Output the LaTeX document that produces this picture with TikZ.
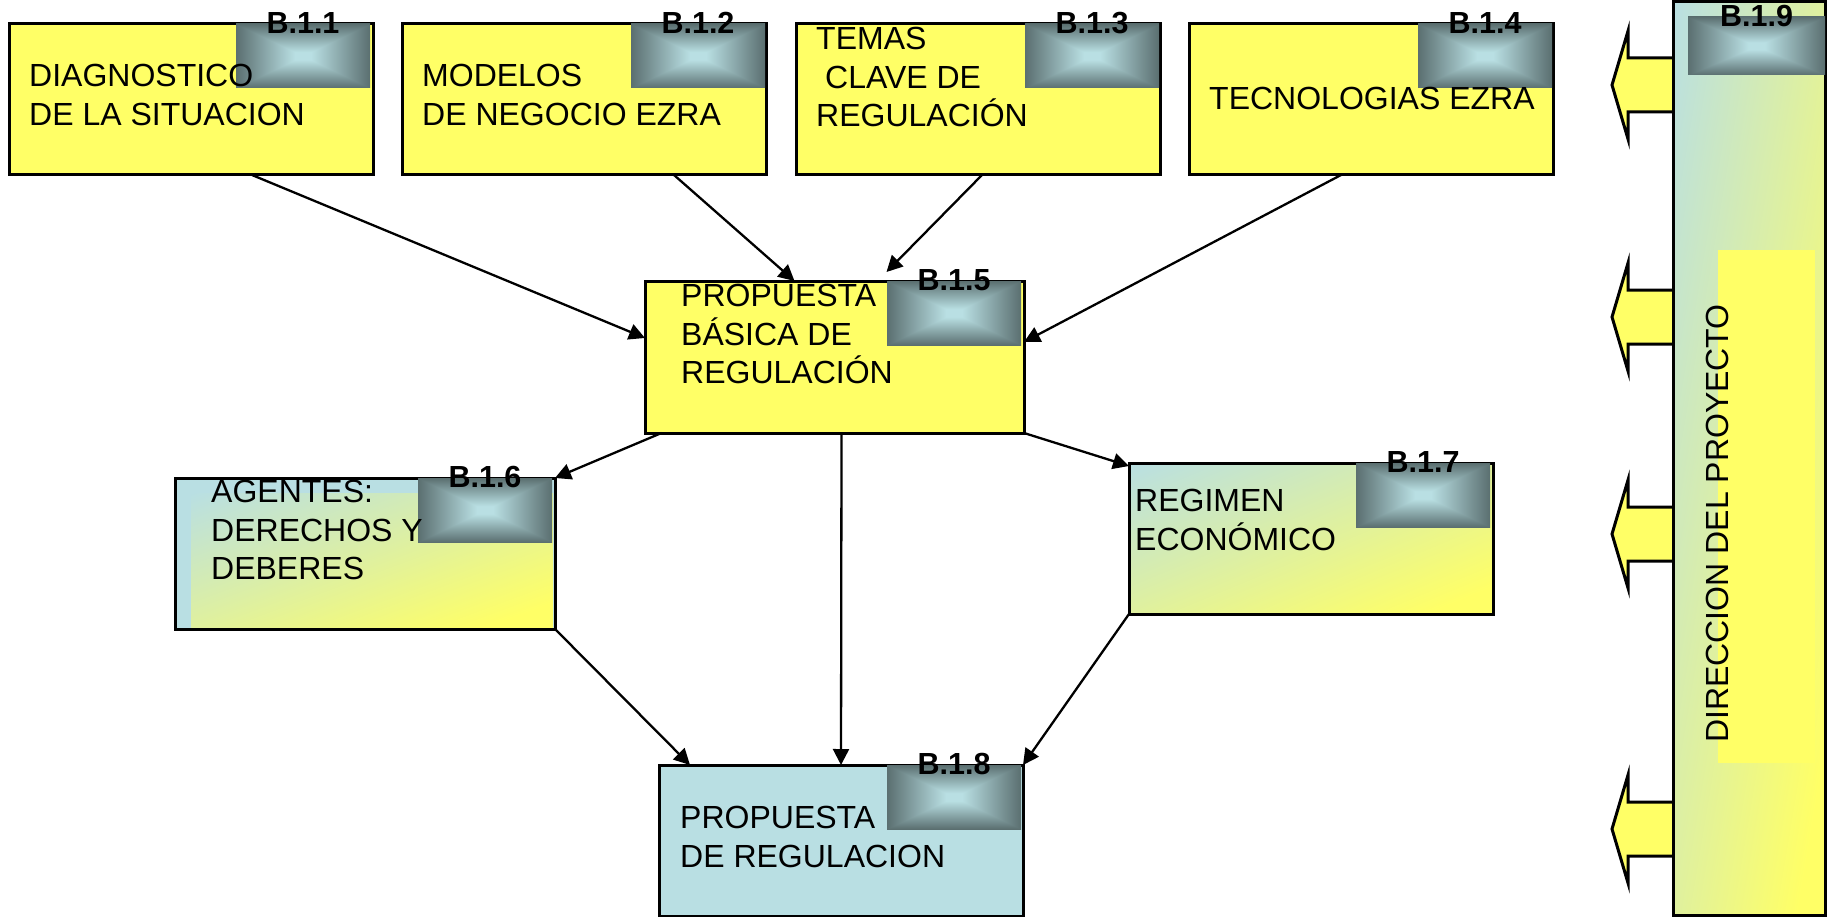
\documentclass[tikz,border=0pt]{standalone}
\usepackage{fontspec}
\setmainfont{Liberation Sans}
\usetikzlibrary{arrows.meta}

\definecolor{cajayellow}{HTML}{FFFF66}
\definecolor{cajablue}{HTML}{B9DFE3}

\pgfdeclarefunctionalshading{badgeshade}{\pgfpoint{-50bp}{-50bp}}{\pgfpoint{50bp}{50bp}}{}{
  abs exch abs 2 copy lt {exch} if pop 25 div 0.12 sub 0.88 div dup 0 lt {pop 0} if
  dup -0.370 mul 0.725 add exch
  dup -0.440 mul 0.875 add exch
  -0.450 mul 0.890 add
}
\pgfdeclarefunctionalshading{blendshade}{\pgfpoint{-50bp}{-50bp}}{\pgfpoint{50bp}{50bp}}{}{
  neg add 100 div 0.5 add 1.1 mul dup 1 gt {pop 1} if
  dup 0.275 mul 0.725 add exch
  dup 0.125 mul 0.875 add exch
  -0.490 mul 0.890 add
}

\tikzset{
  workbox/.style={draw=black,line width=3pt,fill=cajayellow,minimum width=364pt,minimum height=151pt,
    inner sep=0pt,outer sep=0pt,anchor=north west},
  blendbox/.style={shade,shading=blendshade},
  badge/.style={shade,shading=badgeshade,minimum width=134pt,minimum height=64pt,
    inner sep=0pt,outer sep=0pt,anchor=north west},
  badgetext/.style={font=\fontsize{30.5}{30.5}\selectfont\bfseries,inner sep=0pt,anchor=base},
  boxtext/.style={font=\fontsize{32}{38.5}\selectfont,align=left,inner sep=0pt,anchor=north west},
  link/.style={line width=2.3pt,-{Triangle[length=16pt,width=16pt]}},
  blockarrow/.style={draw=black,line width=3pt,fill=cajayellow,miter limit=20}
}

\begin{document}
\begin{tikzpicture}[x=1pt,y=-1pt]
  \useasboundingbox (0,0) rectangle (1827,917);

  % block arrows out of the management bar
  \foreach \n/\y in {1/85, 2/317, 3/534, 4/829} {
    \coordinate (dir\n) at (1673,\y);
    \draw[blockarrow] ([yshift=27pt]dir\n) -- ++(-45,0) -- ++(0,-27) -- ++(-16,54) -- ++(16,54) -- ++(0,-27) -- ++(45,0);
  }

  % boxes
  \foreach \n/\x/\y in {11/9/24, 12/402/24, 13/796/24, 14/1189/24} {
    \node[workbox] (b\n) at (\x,\y) {};
  }
  \node[workbox,minimum width=379pt,minimum height=152pt] (b15) at (645,281) {};
  \node[workbox,fill=cajablue,minimum width=380pt] (b16) at (175,478) {};
  \node[blendbox,minimum width=362pt,minimum height=134pt,inner sep=0pt,outer sep=0pt,anchor=north west] (b16in) at (191,493) {};
  \node[workbox,blendbox] (b17) at (1129,463) {};
  \node[workbox,fill=cajablue] (b18) at (659,765) {};
  \node[workbox,blendbox,minimum width=152pt,minimum height=913pt] (b19) at (1673,2) {};
  \node[fill=cajayellow,minimum width=97pt,minimum height=513pt,inner sep=0pt,outer sep=0pt,anchor=north west] (b19in) at (1718,250) {};

  % badges with their codes
  \foreach \n/\x/\y in {11/236/24, 12/631/24, 13/1025/24, 14/1418/24, 15/887/281, 16/418/478, 17/1356/463, 18/887/765} {
    \node[badge] (s\n) at (\x,\y) {};
  }
  \node[badge,minimum width=137pt,minimum height=58pt] (s19) at (1688,17) {};
  \foreach \n/\t in {11/B.1.1, 12/B.1.2, 13/B.1.3, 14/B.1.4, 15/B.1.5, 16/B.1.6, 17/B.1.7, 18/B.1.8, 19/B.1.9} {
    \node[badgetext] (c\n) at ([yshift=-9.5pt]s\n.north) {\t};
  }

  % box texts
  \node[boxtext] (t11) at (29,64) {DIAGNOSTICO\\DE LA SITUACION};
  \node[boxtext] (t12) at (422,64) {MODELOS\\DE NEGOCIO EZRA};
  \node[boxtext] (t13) at (816,27) {TEMAS\\\hspace*{9pt}CLAVE DE\\REGULACIÓN};
  \node[boxtext] (t14) at (1209,87) {TECNOLOGIAS EZRA};
  \node[boxtext] (t15) at (681,284) {PROPUESTA\\BÁSICA DE\\REGULACIÓN};
  \node[boxtext] (t16) at (211,480) {AGENTES:\\DERECHOS Y\\DEBERES};
  \node[boxtext] (t17) at (1135,489) {REGIMEN\\ECONÓMICO};
  \node[boxtext] (t18) at (680,806) {PROPUESTA\\DE REGULACION};
  \node[boxtext,rotate=90,anchor=base west] (t19) at (1728,743) {DIRECCION DEL PROYECTO};

  % links
  \draw[link] ([xshift=61pt]b11.south) -- ([yshift=19pt]b15.west);
  \draw[link] ([xshift=90pt]b12.south) -- ([xshift=-40pt]b15.north);
  \draw[link] ([xshift=4pt]b13.south) -- ([xshift=52pt,yshift=9pt]b15.north);
  \draw[link] ([xshift=-30pt]b14.south) -- ([yshift=15pt]b15.east);
  \draw[link] ([xshift=-173pt]b15.south) -- (b16.north east);
  \draw[link] ([xshift=7pt]b15.south) -- (b18.north);
  \draw[link] (b15.south east) -- ([yshift=-3pt]b17.north west);
  \draw[link] (b16.south east) -- ([xshift=-151pt]b18.north);
  \draw[link] (b17.south west) -- (b18.north east);
\end{tikzpicture}
\end{document}
